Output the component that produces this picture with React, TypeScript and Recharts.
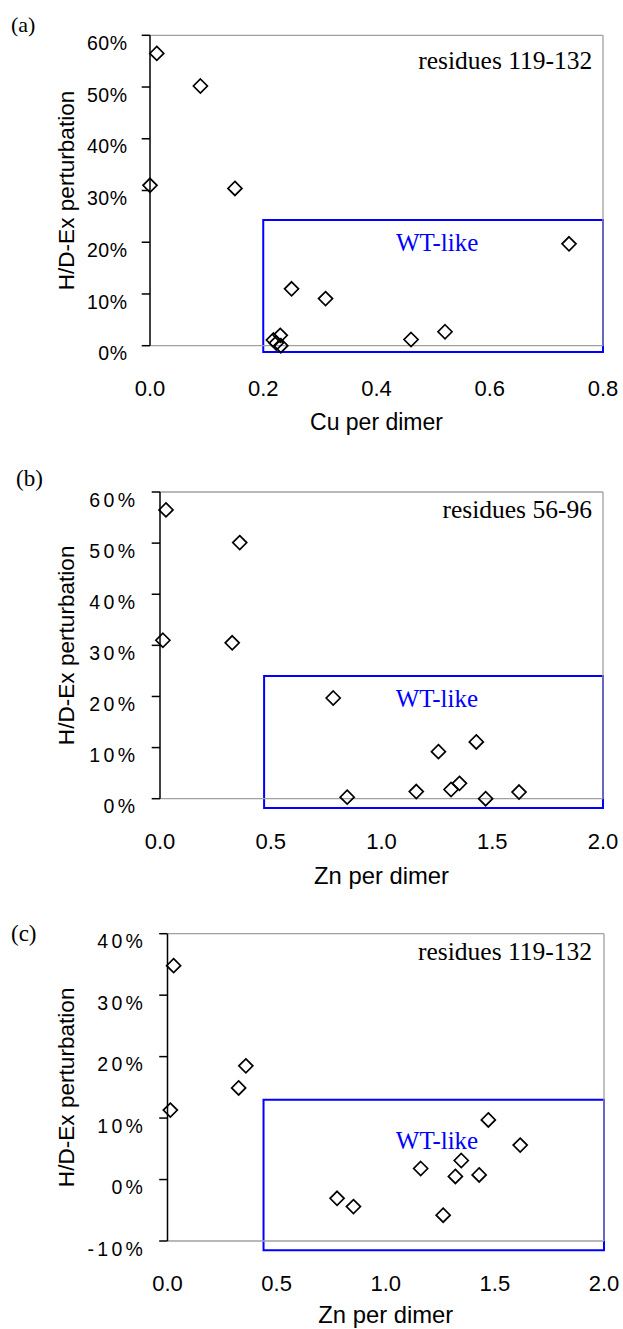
import React from 'react';
import { ScatterChart, Scatter, XAxis, YAxis, ReferenceArea, ReferenceDot, ReferenceLine, Label } from 'recharts';

// ---------- data ----------
// (a) residues 119-132 vs Cu per dimer
const cuPerDimerA = [0.012, 0.089, 0.0, 0.15, 0.74, 0.25, 0.31, 0.521, 0.461, 0.23, 0.218, 0.223, 0.231];
const perturbationA = [0.565, 0.502, 0.31, 0.304, 0.197, 0.11, 0.091, 0.027, 0.012, 0.02, 0.011, 0.005, 0.0];

// (b) residues 56-96 vs Zn per dimer
const znPerDimerB = [0.027, 0.36, 0.013, 0.326, 0.782, 1.428, 1.257, 1.352, 1.314, 1.157, 1.621, 0.845, 1.47];
const perturbationB = [0.565, 0.501, 0.31, 0.305, 0.197, 0.111, 0.092, 0.03, 0.018, 0.014, 0.013, 0.003, 0.0];

// (c) residues 119-132 vs Zn per dimer
const znPerDimerC = [0.028, 0.359, 0.326, 0.013, 1.47, 1.616, 1.346, 1.16, 1.319, 1.428, 0.777, 0.852, 1.263];
const perturbationC = [0.348, 0.185, 0.149, 0.113, 0.097, 0.056, 0.031, 0.018, 0.005, 0.0075, -0.0305, -0.044, -0.058];

const xTicksCu = [0, 0.2, 0.4, 0.6, 0.8];
const xTicksZn = [0, 0.5, 1.0, 1.5, 2.0];
const yTicksAB = [0, 0.1, 0.2, 0.3, 0.4, 0.5, 0.6];
const yTicksC = [-0.1, 0, 0.1, 0.2, 0.3, 0.4];

const panelLetters = ['(a)', '(b)', '(c)'];
const residueLabels = ['residues 119-132', 'residues 56-96', 'residues 119-132'];
const xTitles = ['Cu per dimer', 'Zn per dimer', 'Zn per dimer'];
const yTitle = 'H/D-Ex perturbation';
const wtLabel = 'WT-like';

// WT-like region [x1, x2, y1, y2]
const wtBoxA = [0.2, 0.8, -0.012, 0.243];
const wtBoxB = [0.47, 2.0, -0.018, 0.24];
const wtBoxC = [0.44, 2.0, -0.115, 0.13];

// annotation anchor points [x, y]
const residuePosA = [0.781, 0.534];
const residuePosB = [1.95, 0.55];
const residuePosC = [1.945, 0.358];
const wtPosA = [0.507, 0.184];
const wtPosB = [1.25, 0.18];
const wtPosC = [1.235, 0.05];

// ---------- styling ----------
const SANS = '"Liberation Sans", Arial, Helvetica, sans-serif';
const SERIF = '"Liberation Serif", "Times New Roman", Times, serif';
const GRAY = '#a0a0a0';
const BLUE = '#0000ff';

const fmtPct = (v: number) => `${Math.round(v * 100)}%`;

const Diamond = (props: any) => {
  const { cx, cy } = props;
  if (cx == null || cy == null) return null;
  const r = 7;
  return (
    <path
      d={`M${cx},${cy - r}L${cx + r},${cy}L${cx},${cy + r}L${cx - r},${cy}Z`}
      fill="none"
      stroke="#000"
      strokeWidth={1.7}
    />
  );
};

type PanelCfg = {
  top: number;
  height: number;
  margin: { top: number; right: number; bottom: number; left: number };
  yAxisW: number;
  xAxisH: number;
  xs: number[];
  ys: number[];
  xDomain: [number, number];
  yDomain: [number, number];
  xTicks: number[];
  yTicks: number[];
  tickMargin: number;
  ls: number;
  box: number[];
  resPos: number[];
  wtPos: number[];
  residue: string;
  xTitle: string;
  xTitleSize: number;
  letter: string;
  letterTop: number;
  letterLeft: number;
  letterSize: number;
};

const panels: PanelCfg[] = [
  {
    top: 0, height: 500,
    margin: { top: 35.3, right: 20, bottom: 2.7, left: -19 },
    yAxisW: 169, xAxisH: 151.6,
    xs: cuPerDimerA, ys: perturbationA,
    xDomain: [0, 0.8], yDomain: [0, 0.6],
    xTicks: xTicksCu, yTicks: yTicksAB,
    tickMargin: 14.7, ls: 0.5,
    box: wtBoxA, resPos: residuePosA, wtPos: wtPosA,
    residue: residueLabels[0], xTitle: xTitles[0], xTitleSize: 23,
    letter: panelLetters[0], letterTop: 14, letterLeft: 11, letterSize: 22,
  },
  {
    top: 440, height: 520,
    margin: { top: 52, right: 20, bottom: 7.7, left: -29 },
    yAxisW: 189, xAxisH: 153.6,
    xs: znPerDimerB, ys: perturbationB,
    xDomain: [0, 2], yDomain: [0, 0.6],
    xTicks: xTicksZn, yTicks: yTicksAB,
    tickMargin: 16.7, ls: 3.3,
    box: wtBoxB, resPos: residuePosB, wtPos: wtPosB,
    residue: residueLabels[1], xTitle: xTitles[1], xTitleSize: 23.8,
    letter: panelLetters[1], letterTop: 467, letterLeft: 16, letterSize: 23,
  },
  {
    top: 890, height: 520,
    margin: { top: 43.7, right: 19, bottom: 21, left: -36.5 },
    yAxisW: 204, xAxisH: 148,
    xs: znPerDimerC, ys: perturbationC,
    xDomain: [0, 2], yDomain: [-0.1, 0.4],
    xTicks: xTicksZn, yTicks: yTicksC,
    tickMargin: 16.3, ls: 3.3,
    box: wtBoxC, resPos: residuePosC, wtPos: wtPosC,
    residue: residueLabels[2], xTitle: xTitles[2], xTitleSize: 23.8,
    letter: panelLetters[2], letterTop: 921.5, letterLeft: 11, letterSize: 23,
  },
];

function Panel({ cfg }: { cfg: PanelCfg }) {
  const data = cfg.xs.map((x, i) => ({ x, y: cfg.ys[i] }));
  const renderXTick = (p: any) => (
    <text
      x={p.x}
      y={p.y + 50}
      textAnchor="middle"
      fontSize={22}
      fontFamily={SANS}
      fill="#000"
    >
      {Number(p.payload.value).toFixed(1)}
    </text>
  );
  const renderYTick = (p: any) => (
    <text
      x={p.x + cfg.ls}
      y={p.y + 14.6}
      textAnchor="end"
      fontSize={19.5}
      fontFamily={SANS}
      letterSpacing={cfg.ls}
      fill="#000"
    >
      {fmtPct(Number(p.payload.value))}
    </text>
  );
  return (
    <div style={{ position: 'absolute', left: 0, top: cfg.top }}>
      <ScatterChart width={623} height={cfg.height} margin={cfg.margin}>
        <XAxis
          dataKey="x"
          type="number"
          domain={cfg.xDomain}
          ticks={cfg.xTicks}
          interval={0}
          tickLine={false}
          tickSize={0}
          tickMargin={0}
          height={cfg.xAxisH}
          axisLine={{ stroke: GRAY, strokeWidth: 1.3 }}
          tick={renderXTick}
        >
          <Label
            value={cfg.xTitle}
            position="center"
            fontSize={cfg.xTitleSize}
            fontFamily={SANS}
            fill="#000"
          />
        </XAxis>
        <YAxis
          dataKey="y"
          type="number"
          domain={cfg.yDomain}
          ticks={cfg.yTicks}
          interval={0}
          width={cfg.yAxisW}
          tickSize={8.3}
          tickMargin={cfg.tickMargin}
          tickLine={{ stroke: '#000', strokeWidth: 1.5 }}
          axisLine={{ stroke: '#000', strokeWidth: 1.5 }}
          tick={renderYTick}
        >
          <Label
            value={yTitle}
            position="center"
            angle={-90}
            fontSize={22.6}
            fontFamily={SANS}
            fill="#000"
          />
        </YAxis>
        <ReferenceLine y={cfg.yDomain[1]} stroke={GRAY} strokeWidth={1.3} ifOverflow="visible" />
        <ReferenceLine x={cfg.xDomain[1]} stroke={GRAY} strokeWidth={1.3} ifOverflow="visible" />
        <ReferenceArea
          x1={cfg.box[0]}
          x2={cfg.box[1]}
          y1={cfg.box[2]}
          y2={cfg.box[3]}
          fill="none"
          fillOpacity={0}
          stroke={BLUE}
          strokeWidth={2}
          strokeOpacity={1}
          ifOverflow="visible"
        />
        <ReferenceDot
          x={cfg.resPos[0]}
          y={cfg.resPos[1]}
          r={0}
          ifOverflow="visible"
          shape={(p: any) => (
            <text x={p.cx} y={p.cy} textAnchor="end" fontSize={25.5} fontFamily={SERIF} fill="#000">
              {cfg.residue}
            </text>
          )}
        />
        <ReferenceDot
          x={cfg.wtPos[0]}
          y={cfg.wtPos[1]}
          r={0}
          ifOverflow="visible"
          shape={(p: any) => (
            <text x={p.cx} y={p.cy} textAnchor="middle" fontSize={25} fontFamily={SERIF} fill={BLUE}>
              {wtLabel}
            </text>
          )}
        />
        <Scatter data={data} shape={Diamond} isAnimationActive={false} />
      </ScatterChart>
    </div>
  );
}

export default function App() {
  return (
    <div
      style={{
        position: 'absolute',
        left: 0,
        top: 0,
        width: 623,
        height: 1329,
        overflow: 'hidden',
        background: '#fff',
      }}
    >
      {panels.map((cfg, i) => (
        <Panel key={i} cfg={cfg} />
      ))}
      {panels.map((cfg, i) => (
        <div
          key={'l' + i}
          style={{
            position: 'absolute',
            left: cfg.letterLeft,
            top: cfg.letterTop,
            fontFamily: SERIF,
            fontSize: cfg.letterSize,
            lineHeight: 1,
            color: '#000',
            whiteSpace: 'nowrap',
          }}
        >
          {cfg.letter}
        </div>
      ))}
    </div>
  );
}
